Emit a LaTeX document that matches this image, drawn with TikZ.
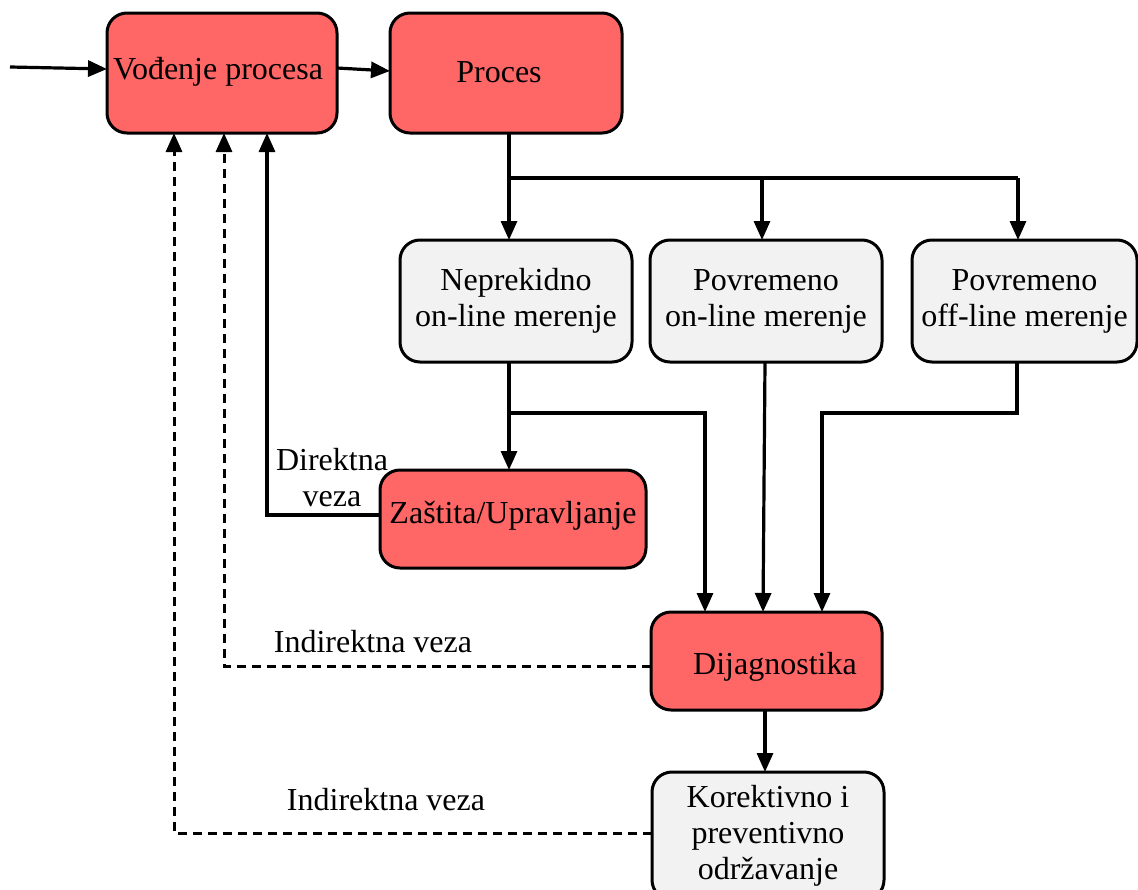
\documentclass[tikz,border=0pt]{standalone}
\usepackage{fontspec}
\setmainfont{Liberation Serif}
\usetikzlibrary{arrows.meta}
\definecolor{boxred}{HTML}{FF6666}
\definecolor{boxgray}{HTML}{F2F2F2}
\begin{document}
\begin{tikzpicture}[x=1pt,y=-1pt,
  font=\fontsize{32}{36}\selectfont,
  box/.style={draw=black, line width=3pt, rounded corners=20pt, outer sep=0pt,
              inner sep=0pt, align=center},
  redbox/.style={box, fill=boxred},
  graybox/.style={box, fill=boxgray},
  flow/.style={line width=3.2pt, -{Triangle[length=19pt,width=16pt]}},
  link/.style={line width=3.2pt},
  dlink/.style={line width=3pt, dash pattern=on 9pt off 6pt},
  lbl/.style={align=center, inner sep=0pt}]
\useasboundingbox (0,0) rectangle (1138,889);

% blocks
\node[redbox, minimum width=230pt, minimum height=120pt] (vod) at (222,73) {};
\node at (218,72) {Vođenje procesa};
\node[redbox, minimum width=232pt, minimum height=120pt] (proc) at (506,73) {};
\node at (499,72) {Proces};
\node[graybox, minimum width=232pt, minimum height=122pt] (nep) at (516,301) {Neprekidno\\on-line merenje};
\node[graybox, minimum width=232pt, minimum height=122pt] (pon) at (766,301) {Povremeno\\on-line merenje};
\node[graybox, minimum width=225pt, minimum height=122pt] (poff) at (1024.5,301) {Povremeno\\off-line merenje};
\node[redbox, minimum width=266pt, minimum height=98pt] (zas) at (513,519) {};
\node at (513,516) {Zaštita/Upravljanje};
\node[redbox, minimum width=231pt, minimum height=98pt] (dij) at (766.5,661) {};
\node at (775,667) {Dijagnostika};
\node[graybox, minimum width=232pt, minimum height=128pt] (kor) at (768,836) {Korektivno i\\preventivno\\održavanje};

% input and forward path
\coordinate (in) at (10,67);
\draw[flow] (in) -- (vod.west |- 0,69);
\draw[flow] (vod.east |- 0,68) -- (proc.west |- 0,71);

% measurement branches
\coordinate (split) at (509,178);
\draw[flow] (proc.south -| split) -- (nep.north -| split);
\draw[link] (split) -- (1018,178);
\draw[flow] (762,178) -- (pon.north -| 762,0);
\draw[flow] (1018,178) -- (poff.north -| 1018,0);

% to protection and diagnostics
\coordinate (nsplit) at (509,413);
\draw[flow] (nep.south -| nsplit) -- (zas.north -| nsplit);
\draw[flow] (nsplit) -| (dij.north -| 705,0);
\draw[flow] (pon.south -| 765,0) -- (dij.north -| 763,0);
\draw[flow] (poff.south -| 1017,0) |- (822,413) -- (dij.north -| 822,0);
\draw[flow] (dij.south -| 765,0) -- (kor.north -| 765,0);

% feedback links
\draw[flow] (zas.west |- 0,515) -| (vod.south -| 267,0);
\draw[dlink] (dij.west |- 0,666) -| (224,145);
\draw[flow] (224,150) -- (vod.south -| 224,0);
\draw[dlink] (kor.west |- 0,833) -| (174,145);
\draw[flow] (174,150) -- (vod.south -| 174,0);

% link labels
\node[lbl] (ldir) at (332,478) {Direktna\\veza};
\node[lbl] (lind1) at (373,642) {Indirektna veza};
\node[lbl] (lind2) at (386,800) {Indirektna veza};
\end{tikzpicture}
\end{document}
